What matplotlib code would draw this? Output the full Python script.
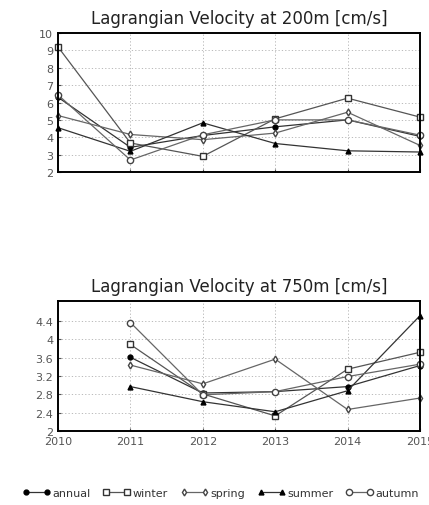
import matplotlib
matplotlib.use("agg")
import matplotlib.pyplot as plt
import numpy as np

years_200 = [2010, 2011, 2012, 2013, 2014, 2015]
annual_200 = [6.3, 3.42, 4.1, 4.6, 5.0, 4.05]
winter_200 = [9.2, 3.67, 2.9, 5.06, 6.25, 5.16]
spring_200 = [5.25, 4.16, 3.86, 4.24, 5.44, 3.53]
summer_200 = [4.55, 3.19, 4.83, 3.64, 3.22, 3.15]
autumn_200 = [6.44, 2.69, 4.14, 5.0, 5.0, 4.12]

years_750 = [2011, 2012, 2013, 2014, 2015]
annual_750 = [3.61, 2.83, 2.86, 2.97, 3.43]
winter_750 = [3.89, 2.81, 2.33, 3.35, 3.72]
spring_750 = [3.44, 3.03, 3.57, 2.47, 2.72]
summer_750 = [2.97, 2.64, 2.42, 2.88, 4.52]
autumn_750 = [4.37, 2.79, 2.86, 3.19, 3.46]

names = ["annual", "winter", "spring", "summer", "autumn"]
styles = {
    "annual": dict(marker="o", ms=3.5, mfc="black", mec="black", color="#333333"),
    "winter": dict(marker="s", ms=4.5, mfc="white", mec="#333333", color="#555555"),
    "spring": dict(marker="d", ms=3.5, mfc="white", mec="#444444", color="#666666"),
    "summer": dict(marker="^", ms=3.5, mfc="black", mec="black", color="#333333"),
    "autumn": dict(marker="o", ms=4.5, mfc="white", mec="#444444", color="#666666"),
}

fig = plt.figure(figsize=(4.29, 5.06), dpi=100)
W, H = 429, 506
ax1 = fig.add_axes([58 / W, 1 - 173 / H, 362 / W, 139 / H])
ax2 = fig.add_axes([58 / W, 1 - 432 / H, 362 / W, 130 / H])

data_200 = [annual_200, winter_200, spring_200, summer_200, autumn_200]
data_750 = [annual_750, winter_750, spring_750, summer_750, autumn_750]

handles = []
for name, y in zip(names, data_200):
    h, = ax1.plot(years_200, y, lw=0.9, label=name, clip_on=False, **styles[name])
    handles.append(h)
for name, y in zip(names, data_750):
    ax2.plot(years_750, y, lw=0.9, clip_on=False, **styles[name])

for ax in (ax1, ax2):
    ax.set_xlim(2010, 2015)
    ax.set_xticks(range(2010, 2016))
    ax.grid(True, color="#b0b0b0", ls=(0, (1.5, 2.5)), lw=0.6)
    ax.tick_params(labelsize=8, colors="#555555", length=2, direction="in")
    for s in ax.spines.values():
        s.set_linewidth(1.4)

ax1.set_ylim(2, 10)
ax1.set_yticks(range(2, 11))
ax1.set_xticklabels([])
ax1.set_title("Lagrangian Velocity at 200m [cm/s]", fontsize=12, pad=7, color="#222222")

ax2.set_ylim(2, 4.84)
ax2.set_yticks([2, 2.4, 2.8, 3.2, 3.6, 4, 4.4])
ax2.set_yticklabels(["2", "2.4", "2.8", "3.2", "3.6", "4", "4.4"])
ax2.set_xticklabels([str(y) for y in range(2010, 2016)])
ax2.set_title("Lagrangian Velocity at 750m [cm/s]", fontsize=12, pad=7, color="#222222")

fig.legend(handles=handles, loc="center", bbox_to_anchor=(0.515, 1 - 494 / H),
           ncol=5, frameon=False, fontsize=8, numpoints=2, handlelength=2.5,
           handletextpad=0.2, columnspacing=1.1, labelcolor="#333333")

fig.savefig("out.png", dpi=100)
